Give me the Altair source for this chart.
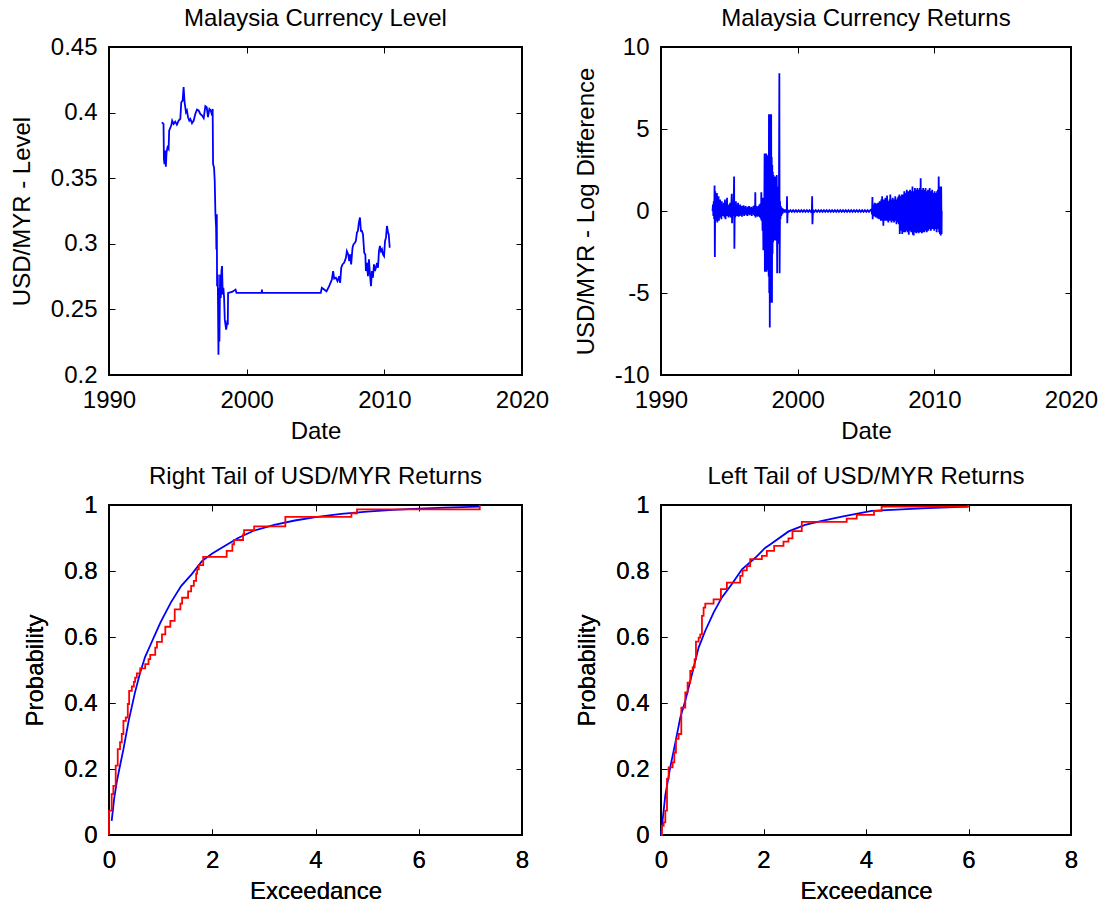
import altair as alt
import pandas as pd

FONT = "Liberation Sans"
FS = 24

# ---------------- data ----------------
level_year = [1993.84, 1993.96, 1993.99, 1994.03, 1994.08, 1994.13, 1994.18, 1994.25, 1994.33, 1994.37,
              1994.45, 1994.52, 1994.59, 1994.69, 1994.81, 1994.93, 1995.06, 1995.18, 1995.25, 1995.35,
              1995.42, 1995.49, 1995.59, 1995.66, 1995.74, 1995.83, 1995.91, 1996.03, 1996.15, 1996.27,
              1996.39, 1996.51, 1996.63, 1996.76, 1996.88, 1997.00, 1997.10, 1997.19, 1997.29, 1997.39,
              1997.49, 1997.53, 1997.56, 1997.63, 1997.68, 1997.73, 1997.78, 1997.80, 1997.83, 1997.85,
              1997.90, 1997.95, 1998.00, 1998.02, 1998.07, 1998.12, 1998.17, 1998.21, 1998.26, 1998.31,
              1998.36, 1998.41, 1998.46, 1998.51, 1998.58, 1998.63, 1998.65, 1998.94, 1999.19, 1999.26,
              2001.08, 2001.11, 2001.13, 2005.38, 2005.46, 2005.63, 2005.80, 2005.99, 2006.19, 2006.28,
              2006.36, 2006.48, 2006.60, 2006.72, 2006.79, 2006.87, 2006.96, 2007.08, 2007.21, 2007.28,
              2007.38, 2007.45, 2007.52, 2007.59, 2007.69, 2007.76, 2007.86, 2007.93, 2008.01, 2008.08,
              2008.15, 2008.23, 2008.30, 2008.37, 2008.45, 2008.54, 2008.62, 2008.66, 2008.74, 2008.81,
              2008.88, 2008.96, 2009.03, 2009.10, 2009.17, 2009.25, 2009.32, 2009.39, 2009.47, 2009.54,
              2009.61, 2009.68, 2009.76, 2009.83, 2009.90, 2009.98, 2010.05, 2010.12, 2010.19, 2010.27,
              2010.32, 2010.39]
level_value = [0.3926, 0.3914, 0.3646, 0.3607, 0.3710, 0.3587, 0.3697, 0.3735, 0.3722, 0.3863,
               0.3883, 0.3901, 0.3939, 0.3914, 0.3931, 0.3908, 0.3939, 0.3952, 0.4079, 0.4092,
               0.4194, 0.4079, 0.4003, 0.4016, 0.3965, 0.3939, 0.3952, 0.3919, 0.3939, 0.3990,
               0.4023, 0.4016, 0.3990, 0.3977, 0.3957, 0.4049, 0.4041, 0.3965, 0.4028, 0.4016,
               0.3977, 0.4028, 0.3607, 0.3582, 0.3480, 0.3225, 0.3123, 0.2957, 0.3225, 0.2677,
               0.2766, 0.2154, 0.2664, 0.2256, 0.2766, 0.2588, 0.2792, 0.2830, 0.2613, 0.2664,
               0.2588, 0.2422, 0.2384, 0.2345, 0.2396, 0.2384, 0.2626, 0.2633, 0.2651, 0.2626,
               0.2626, 0.2651, 0.2626, 0.2626, 0.2664, 0.2651, 0.2638, 0.2677, 0.2728, 0.2792,
               0.2735, 0.2741, 0.2715, 0.2753, 0.2702, 0.2817, 0.2843, 0.2855, 0.2893, 0.2944,
               0.2919, 0.2868, 0.2919, 0.2843, 0.2970, 0.2996, 0.3008, 0.3021, 0.3085, 0.3098,
               0.3161, 0.3200, 0.3098, 0.3098, 0.3072, 0.2932, 0.2919, 0.2792, 0.2855, 0.2753,
               0.2881, 0.2766, 0.2677, 0.2792, 0.2741, 0.2843, 0.2792, 0.2817, 0.2855, 0.2817,
               0.2944, 0.2983, 0.2944, 0.2957, 0.2919, 0.2906, 0.3021, 0.3047, 0.3136, 0.3085,
               0.3072, 0.2970]

ret_year = [
    1993.77, 1993.80, 1993.83, 1993.86, 1993.89, 1993.92, 1993.94, 1993.97, 1994.00, 1994.03,
    1994.06, 1994.09, 1994.12, 1994.15, 1994.18, 1994.21, 1994.24, 1994.27, 1994.30, 1994.33,
    1994.36, 1994.39, 1994.42, 1994.45, 1994.48, 1994.52, 1994.56, 1994.60, 1994.64, 1994.68,
    1994.72, 1994.76, 1994.80, 1994.83, 1994.86, 1994.90, 1994.94, 1994.98, 1995.02, 1995.06,
    1995.10, 1995.14, 1995.18, 1995.20, 1995.24, 1995.28, 1995.32, 1995.35, 1995.37, 1995.40,
    1995.44, 1995.48, 1995.52, 1995.56, 1995.60, 1995.64, 1995.68, 1995.72, 1995.76, 1995.80,
    1995.84, 1995.88, 1995.92, 1995.96, 1996.00, 1996.04, 1996.08, 1996.12, 1996.16, 1996.20,
    1996.24, 1996.28, 1996.32, 1996.36, 1996.40, 1996.44, 1996.48, 1996.52, 1996.56, 1996.60,
    1996.64, 1996.68, 1996.72, 1996.76, 1996.80, 1996.84, 1996.88, 1996.90, 1996.92, 1996.96,
    1997.00, 1997.04, 1997.08, 1997.12, 1997.16, 1997.20, 1997.24, 1997.28, 1997.32, 1997.34,
    1997.36, 1997.40, 1997.43, 1997.46, 1997.49, 1997.52, 1997.55, 1997.58, 1997.60, 1997.62,
    1997.64, 1997.66, 1997.68, 1997.70, 1997.72, 1997.74, 1997.76, 1997.78, 1997.80, 1997.82,
    1997.84, 1997.86, 1997.88, 1997.90, 1997.92, 1997.94, 1997.96, 1997.98, 1998.00, 1998.02,
    1998.04, 1998.06, 1998.08, 1998.10, 1998.12, 1998.14, 1998.16, 1998.18, 1998.20, 1998.23,
    1998.26, 1998.29, 1998.32, 1998.35, 1998.38, 1998.41, 1998.44, 1998.47, 1998.50, 1998.52,
    1998.55, 1998.58, 1998.60, 1998.63, 1998.66, 1998.68, 1998.71, 1998.74, 1998.77, 1998.80,
    1998.84, 1998.88, 1998.92, 1998.96, 1999.00, 1999.04, 1999.08, 1999.12, 1999.16, 1999.20,
    1999.22, 1999.24, 1999.27, 1999.37, 1999.47, 1999.57, 1999.67, 1999.77, 1999.87, 1999.97,
    2000.07, 2000.17, 2000.27, 2000.37, 2000.47, 2000.57, 2000.67, 2000.77, 2000.87, 2000.97,
    2001.04, 2001.06, 2001.08, 2001.12, 2001.22, 2001.32, 2001.42, 2001.52, 2001.62, 2001.72,
    2001.82, 2001.92, 2002.02, 2002.12, 2002.22, 2002.32, 2002.42, 2002.52, 2002.62, 2002.72,
    2002.82, 2002.92, 2003.02, 2003.12, 2003.22, 2003.32, 2003.42, 2003.52, 2003.62, 2003.72,
    2003.82, 2003.92, 2004.02, 2004.12, 2004.22, 2004.32, 2004.42, 2004.52, 2004.62, 2004.72,
    2004.82, 2004.92, 2005.02, 2005.12, 2005.22, 2005.32, 2005.40, 2005.44, 2005.47, 2005.49,
    2005.52, 2005.55, 2005.58, 2005.61, 2005.64, 2005.67, 2005.70, 2005.73, 2005.76, 2005.79,
    2005.82, 2005.85, 2005.88, 2005.91, 2005.94, 2005.97, 2006.00, 2006.03, 2006.06, 2006.09,
    2006.12, 2006.15, 2006.18, 2006.21, 2006.24, 2006.27, 2006.30, 2006.33, 2006.36, 2006.39,
    2006.42, 2006.45, 2006.48, 2006.51, 2006.54, 2006.57, 2006.60, 2006.63, 2006.66, 2006.69,
    2006.72, 2006.75, 2006.78, 2006.81, 2006.84, 2006.87, 2006.90, 2006.93, 2006.96, 2006.99,
    2007.02, 2007.05, 2007.08, 2007.11, 2007.14, 2007.17, 2007.20, 2007.23, 2007.26, 2007.29,
    2007.32, 2007.35, 2007.38, 2007.41, 2007.44, 2007.47, 2007.50, 2007.53, 2007.56, 2007.59,
    2007.62, 2007.65, 2007.68, 2007.71, 2007.74, 2007.77, 2007.80, 2007.83, 2007.86, 2007.89,
    2007.92, 2007.95, 2007.98, 2008.01, 2008.04, 2008.07, 2008.10, 2008.13, 2008.16, 2008.19,
    2008.22, 2008.25, 2008.28, 2008.31, 2008.34, 2008.37, 2008.40, 2008.43, 2008.46, 2008.49,
    2008.52, 2008.55, 2008.58, 2008.61, 2008.64, 2008.67, 2008.70, 2008.73, 2008.76, 2008.79,
    2008.82, 2008.85, 2008.88, 2008.91, 2008.94, 2008.97, 2009.00, 2009.03, 2009.06, 2009.09,
    2009.12, 2009.15, 2009.18, 2009.21, 2009.24, 2009.27, 2009.30, 2009.33, 2009.36, 2009.39,
    2009.42, 2009.45, 2009.48, 2009.51, 2009.54, 2009.57, 2009.60, 2009.63, 2009.66, 2009.69,
    2009.72, 2009.75, 2009.78, 2009.81, 2009.84, 2009.87, 2009.90, 2009.93, 2009.96, 2009.99,
    2010.02, 2010.05, 2010.08, 2010.11, 2010.14, 2010.17, 2010.20, 2010.23, 2010.26, 2010.29,
    2010.32, 2010.35, 2010.38, 2010.41, 2010.44, 2010.47, 2010.50, 2010.53, 2010.54]
ret_value = [
    0.0, 0.4, -0.3, 0.6, -0.5, 1.55, -2.8, 1.2, -0.6, 0.9,
    -0.5, 1.1, -0.7, 0.8, -0.4, 0.9, -0.6, 0.5, -0.3, 0.7,
    -0.4, 0.4, -0.5, 0.6, -0.3, 0.4, -0.3, 0.5, -0.4, 0.7,
    -0.5, 0.4, -0.3, 0.8, -0.3, 0.3, -0.4, 0.4, -0.3, 0.5,
    -0.4, 0.3, 1.05, -0.75, 0.4, -0.3, 0.5, 2.1, -2.3, 0.6,
    -0.4, 0.6, -0.3, 0.4, -0.3, 0.5, -0.35, 0.35, -0.3, 0.4,
    -0.25, 0.3, -0.35, 0.3, -0.2, 0.35, -0.3, 0.25, -0.2, 0.3,
    -0.25, 0.2, -0.3, 0.25, -0.2, 0.3, -0.25, 0.2, -0.2, 0.25,
    -0.3, 0.2, -0.2, 0.3, -0.25, 0.35, -0.3, 1.15, -0.4, 0.3,
    -0.3, 0.25, -0.35, 0.3, -0.3, 0.4, -0.4, 0.45, -0.5, 1.15,
    -0.6, 0.5, -1.2, 0.8, -2.4, 0.7, -1.6, 3.5, -3.7, 2.6,
    -3.0, 3.4, -2.2, 3.5, -3.7, 2.8, -2.9, 3.4, -3.6, 2.5,
    -3.2, 3.3, -4.0, 5.9, -5.0, 4.5, -7.1, 5.9, -5.6, 4.2,
    -5.2, 5.9, -3.8, 3.3, -5.6, 2.8, -2.6, 2.4, -1.9, 2.2,
    -1.6, 1.8, -1.8, 2.1, -1.4, 1.6, -1.8, 2.2, -3.8, 1.5,
    -2.0, 1.3, -1.1, 1.0, 8.4, -3.8, 0.6, -0.5, 0.3, -0.3,
    0.2, -0.2, 0.15, -0.1, 0.1, -0.1, 0.1, -0.1, 0.1, -0.1,
    0.9, -0.75, 0.05, -0.05, 0.05, -0.05, 0.05, -0.05, 0.05, -0.05,
    0.05, -0.05, 0.05, -0.05, 0.05, -0.05, 0.05, -0.05, 0.05, -0.05,
    0.05, 0.9, -0.8, 0.05, -0.05, 0.05, -0.05, 0.05, -0.05, 0.05,
    -0.05, 0.05, -0.05, 0.05, -0.05, 0.05, -0.05, 0.05, -0.05, 0.05,
    -0.05, 0.05, -0.05, 0.05, -0.05, 0.05, -0.05, 0.05, -0.05, 0.05,
    -0.05, 0.05, -0.05, 0.05, -0.05, 0.05, -0.05, 0.05, -0.05, 0.05,
    -0.05, 0.05, -0.05, 0.05, -0.05, 0.05, 0.1, -0.2, 0.85, -0.5,
    0.3, -0.2, 0.4, -0.3, 0.5, -0.35, 0.3, -0.4, 0.45, -0.3,
    0.35, -0.45, 0.5, -0.3, 0.4, -0.5, 0.6, -0.4, 0.5, -0.6,
    0.7, -0.5, 0.9, -0.6, 0.6, -0.9, 0.7, -0.5, 0.6, -0.6,
    0.8, -0.5, 0.7, -0.6, 0.95, -0.5, 0.6, -0.7, 0.5, -0.6,
    0.7, -0.5, 1.0, -0.6, 0.6, -0.7, 0.7, -0.5, 0.8, -0.6,
    0.6, -0.7, 0.7, -0.6, 0.9, -0.5, 0.6, -0.8, 0.7, -0.6,
    0.8, -0.7, 0.9, -0.8, 1.0, -1.4, 0.9, -1.2, 0.8, -1.0,
    1.0, -1.4, 0.9, -1.1, 1.0, -1.3, 1.2, -1.0, 0.9, -1.3,
    1.1, -1.2, 1.3, -1.0, 1.0, -1.3, 1.2, -1.45, 1.1, -1.2,
    1.3, -1.0, 1.0, -1.3, 1.2, -1.1, 1.5, -1.45, 1.2, -1.5,
    1.1, -1.2, 1.4, -1.3, 1.2, -1.35, 1.3, -1.1, 1.4, -1.3,
    1.2, -1.35, 1.3, -1.2, 1.4, -1.3, 2.0, -1.2, 1.3, -1.35,
    1.2, -1.3, 1.4, -1.2, 1.3, -1.3, 1.1, -1.2, 1.4, -1.0,
    1.2, -1.3, 1.0, -1.1, 1.3, -1.2, 1.1, -1.0, 1.4, -1.1,
    1.0, -1.2, 1.2, -1.0, 1.3, -1.1, 1.1, -1.0, 1.0, -1.2,
    1.2, -1.0, 1.1, -1.1, 1.0, -1.3, 1.2, -1.0, 1.3, -1.1,
    2.1, -1.3, 1.5, -1.4, 1.2, -1.5, 1.5, -1.4, 0.0]

right_emp_x = [0.0, 0.0, 0.052, 0.084, 0.130, 0.169, 0.214, 0.247, 0.279, 0.325, 0.364, 0.390,
               0.442, 0.481, 0.506, 0.539, 0.604, 0.701, 0.766, 0.799, 0.896, 0.929, 1.026, 1.091,
               1.188, 1.273, 1.383, 1.416, 1.532, 1.591, 1.643, 1.688, 1.708, 1.740, 1.825, 2.279,
               2.390, 2.422, 2.597, 2.617, 2.812, 3.416, 4.695, 4.805, 7.182, 7.182]
right_emp_p = [0.0, 0.074, 0.124, 0.149, 0.210, 0.260, 0.281, 0.306, 0.346, 0.356, 0.397, 0.437,
               0.450, 0.464, 0.477, 0.490, 0.505, 0.518, 0.533, 0.546, 0.568, 0.585, 0.608, 0.631,
               0.649, 0.684, 0.701, 0.719, 0.738, 0.755, 0.770, 0.792, 0.805, 0.818, 0.843, 0.861,
               0.881, 0.894, 0.911, 0.924, 0.935, 0.964, 0.975, 0.987, 0.987, 1.0]
right_fit_x = [0.052, 0.10, 0.15, 0.20, 0.28, 0.38, 0.50, 0.60, 0.70, 0.80, 0.90, 1.00, 1.20, 1.40,
               1.60, 1.80, 2.00, 2.20, 2.50, 2.80, 3.20, 3.60, 4.00, 4.50, 5.00, 5.50, 6.00, 6.50, 7.18]
right_fit_p = [0.043, 0.11, 0.16, 0.20, 0.26, 0.345, 0.43, 0.49, 0.54, 0.575, 0.61, 0.645, 0.705, 0.755,
               0.79, 0.83, 0.853, 0.872, 0.90, 0.922, 0.94, 0.953, 0.963, 0.973, 0.98, 0.985, 0.989, 0.992, 0.995]

left_emp_x = [0.0, 0.019, 0.052, 0.084, 0.117, 0.149, 0.227, 0.260, 0.292, 0.344, 0.396, 0.474,
              0.519, 0.571, 0.617, 0.656, 0.682, 0.734, 0.766, 0.799, 0.831, 0.864, 1.026, 1.169,
              1.286, 1.545, 1.591, 1.675, 1.740, 1.968, 2.065, 2.208, 2.390, 2.487, 2.565, 2.747,
              3.623, 3.818, 4.156, 4.305, 5.994, 5.994]
left_emp_p = [0.0, 0.028, 0.038, 0.074, 0.170, 0.205, 0.220, 0.250, 0.291, 0.306, 0.386, 0.432,
              0.462, 0.497, 0.508, 0.533, 0.586, 0.598, 0.608, 0.664, 0.689, 0.701, 0.714, 0.745,
              0.765, 0.785, 0.802, 0.815, 0.836, 0.846, 0.861, 0.876, 0.889, 0.899, 0.921, 0.949,
              0.959, 0.970, 0.982, 0.995, 0.995, 1.0]
left_fit_x = [0.0, 0.084, 0.18, 0.28, 0.377, 0.474, 0.604, 0.734, 0.864, 1.026, 1.188, 1.38, 1.58,
              1.84, 2.03, 2.13, 2.49, 2.81, 3.14, 3.53, 4.11, 5.08, 5.99]
left_fit_p = [0.0, 0.12, 0.205, 0.28, 0.356, 0.407, 0.487, 0.568, 0.619, 0.674, 0.72, 0.76, 0.805,
              0.84, 0.87, 0.88, 0.92, 0.94, 0.952, 0.965, 0.982, 0.99, 0.995]

year_ticks = [1990, 2000, 2010, 2020]
level_ticks = [0.2, 0.25, 0.3, 0.35, 0.4, 0.45]
ret_ticks = [-10, -5, 0, 5, 10]
exc_ticks = [0, 2, 4, 6, 8]
prob_ticks = [0, 0.2, 0.4, 0.6, 0.8, 1]

# ---------------- helpers ----------------
TICK = alt.ExprRef(expr="-6")
LABEL_EXPR = "'' + datum.value"


def main_axis(values, title, orient, label_pad, title_pad):
    return alt.Axis(values=values, title=title, orient=orient, labelExpr=LABEL_EXPR,
                    tickSize=TICK, labelPadding=label_pad, titlePadding=title_pad,
                    labelFlush=False, labelOverlap=False,
                    domain=False, grid=False, tickColor="black", tickWidth=1)


def mirror_axis(values, orient):
    return alt.Axis(values=values, title=None, orient=orient, labels=False,
                    tickSize=TICK, domain=False, grid=False, tickColor="black", tickWidth=1)


def panel(layers_spec, xfield, yfield, xdom, ydom, xt, yt, xtitle, ytitle, title, w, h):
    xs = alt.Scale(domain=xdom, nice=False, zero=False)
    ys = alt.Scale(domain=ydom, nice=False, zero=False)
    layers = []
    for df, color, interp in layers_spec:
        enc = dict(
            x=alt.X(f"{xfield}:Q", scale=xs, axis=main_axis(xt, xtitle, "bottom", 19, 7)),
            y=alt.Y(f"{yfield}:Q", scale=ys, axis=main_axis(yt, ytitle, "left", 18, 16)),
        )
        mk = alt.Chart(df).mark_line(color=color, strokeWidth=1.8, interpolate=interp)
        layers.append(mk.encode(**enc))
    df0 = layers_spec[0][0]
    mirror = alt.Chart(df0).mark_line(strokeOpacity=0).encode(
        x=alt.X(f"{xfield}:Q", scale=xs, axis=mirror_axis(xt, "top")),
        y=alt.Y(f"{yfield}:Q", scale=ys, axis=mirror_axis(yt, "right")),
    )
    return alt.layer(*layers, mirror).resolve_axis(x="independent", y="independent").properties(
        width=w, height=h,
        title=alt.Title(title, fontSize=FS, font=FONT, fontWeight="normal", color="black", offset=4),
    )


df_level = pd.DataFrame({"t": level_year, "v": level_value})
df_ret = pd.DataFrame({"t": ret_year, "v": ret_value})
df_re = pd.DataFrame({"x": right_emp_x, "p": right_emp_p})
df_rf = pd.DataFrame({"x": right_fit_x, "p": right_fit_p})
df_le = pd.DataFrame({"x": left_emp_x, "p": left_emp_p})
df_lf = pd.DataFrame({"x": left_fit_x, "p": left_fit_p})

tl = panel([(df_level, "#0000ff", "linear")], "t", "v", [1990, 2020], [0.2, 0.45],
           year_ticks, level_ticks, "Date", "USD/MYR - Level", "Malaysia Currency Level", 413, 328)
tr = panel([(df_ret, "#0000ff", "linear")], "t", "v", [1990, 2020], [-10, 10],
           year_ticks, ret_ticks, "Date", "USD/MYR - Log Difference", "Malaysia Currency Returns", 410, 328)
bl = panel([(df_rf, "#0000ff", "linear"), (df_re, "#ff0000", "step-after")], "x", "p", [0, 8], [0, 1],
           exc_ticks, prob_ticks, "Exceedance", "Probability", "Right Tail of USD/MYR Returns", 413, 330)
br = panel([(df_lf, "#0000ff", "linear"), (df_le, "#ff0000", "step-after")], "x", "p", [0, 8], [0, 1],
           exc_ticks, prob_ticks, "Exceedance", "Probability", "Left Tail of USD/MYR Returns", 410, 330)

chart = alt.concat(tl, tr, bl, br, columns=2, spacing=alt.RowColnumber(row=20, column=23)).properties(
    padding={"left": 9, "top": 6, "right": 5, "bottom": 0},
    background="white",
).configure_view(
    stroke="black", strokeWidth=2
).configure_axis(
    labelFont=FONT, titleFont=FONT, labelFontSize=FS, titleFontSize=FS,
    labelColor="black", titleColor="black", titleFontWeight="normal",
)

chart.save("out.html", embed_options={"renderer": "svg", "actions": False})
